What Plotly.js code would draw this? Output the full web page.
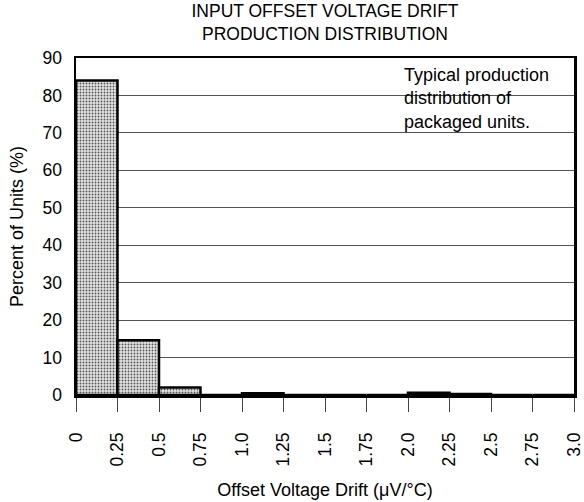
<!DOCTYPE html>
<html><head><meta charset="utf-8">
<script src="https://cdn.plot.ly/plotly-3.0.1.min.js"></script>
<style>body{margin:0;background:#fff}#c{width:584px;height:502px}</style>
</head><body><div id="c"></div>
<script>
const binStarts = [0, 0.25, 0.5, 0.75, 1.0, 1.25, 1.5, 1.75, 2.0, 2.25, 2.5, 2.75];
const binWidth = 0.25;
const percents = [84, 14.6, 2, 0, 0.5, 0, 0, 0, 0.6, 0.25, 0, 0];
const tickVals = [0, 0.25, 0.5, 0.75, 1.0, 1.25, 1.5, 1.75, 2.0, 2.25, 2.5, 2.75, 3.0];
const tickText = ["0","0.25","0.5","0.75","1.0","1.25","1.5","1.75","2.0","2.25","2.5","2.75","3.0"];
const font = "Liberation Sans, Arial, Helvetica, sans-serif";

const trace = {
  type: "bar",
  x: binStarts.map(s => s + binWidth/2),
  y: percents,
  width: binStarts.map(() => binWidth),
  marker: {
    color: "#e4e4e4",
    line: {color: "#000", width: 2.5},
    pattern: {shape: ".", fgcolor: "#555", bgcolor: "#e4e4e4", size: 3, solidity: 0.3}
  },
  hoverinfo: "skip"
};

const layout = {
  width: 584, height: 502,
  margin: {l: 76, r: 10, t: 58, b: 107},
  paper_bgcolor: "#fff", plot_bgcolor: "#fff",
  showlegend: false,
  bargap: 0,
  font: {family: font, size: 18, color: "#000"},
  title: {text: "INPUT OFFSET VOLTAGE DRIFT<br>PRODUCTION DISTRIBUTION", x: 0.5, xref: "paper", xanchor: "center", yref: "container", y: 0.966, yanchor: "middle", font: {family: font, size: 17.5, color: "#000"}},
  xaxis: {
    range: [0, 3.0], tickvals: tickVals, ticktext: tickText, tickangle: -90,
    ticks: "outside", ticklen: 14, tickcolor: "#444", tickwidth: 1,
    ticklabelstandoff: 14,
    showline: true, linecolor: "#000", linewidth: 2.5, mirror: true,
    showgrid: false, zeroline: false,
    tickfont: {family: font, size: 17.5, color: "#000"},
    title: {text: "Offset Voltage Drift (μV/°C)", font: {family: font, size: 18, color: "#000"}, standoff: 18}
  },
  yaxis: {
    range: [0, 90], dtick: 10, tick0: 0,
    ticks: "", showline: true, linecolor: "#000", linewidth: 2.5, mirror: true,
    showgrid: true, gridcolor: "#555", gridwidth: 1, zeroline: false,
    ticklabelstandoff: 8,
    tickfont: {family: font, size: 17.5, color: "#000"},
    title: {text: "Percent of Units (%)", font: {family: font, size: 18, color: "#000"}, standoff: 14}
  },
  shapes: [{
    type: "rect", xref: "paper", yref: "paper", x0: 0.6406, x1: 0.9719, y0: 0.742, y1: 0.994,
    fillcolor: "#fff", line: {width: 0}, layer: "between"
  }],
  annotations: [{
    xref: "paper", yref: "paper", x: 0.6566, y: 0.982, xanchor: "left", yanchor: "top",
    text: "Typical production<br>distribution of<br>packaged units.", align: "left",
    showarrow: false, borderpad: 0,
    font: {family: font, size: 18, color: "#000"}
  }]
};

Plotly.newPlot("c", [trace], layout, {displayModeBar: false, staticPlot: true});
</script></body></html>
